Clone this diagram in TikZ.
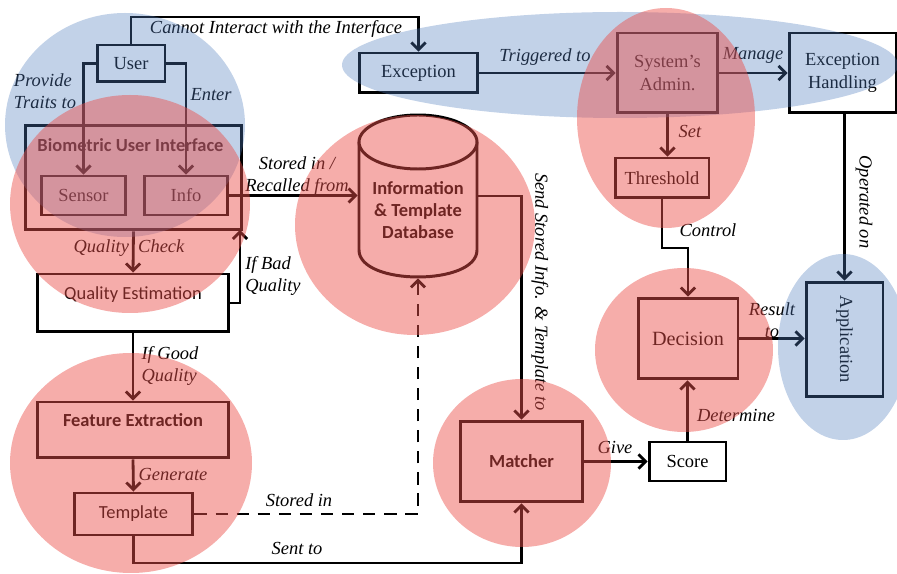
\documentclass[tikz,border=0pt]{standalone}
\usepackage{fontspec}
\setmainfont{Liberation Serif}
\newfontfamily\calibri{Carlito}
\usetikzlibrary{calc,arrows.meta}
\definecolor{blobred}{RGB}{235,80,75}
\definecolor{blobblue}{RGB}{80,125,190}

\begin{document}
\begin{tikzpicture}[x=0.02cm, y=-0.02cm, line width=1.6pt,
  boxsize/.style 2 args={minimum width=#1*0.2mm, minimum height=#2*0.2mm},
  box/.style={draw, line width=1.7pt, fill=white, align=center, inner sep=0pt,
    font=\fontsize{10.5}{13}\selectfont},
  cbox/.style={box, font=\calibri\fontsize{10.5}{13}\selectfont},
  bbox/.style={box, font=\calibri\bfseries\fontsize{10.5}{13}\selectfont},
  lbl/.style={font=\itshape\fontsize{10.5}{12.5}\selectfont, align=center, inner sep=0pt},
  arr/.style={-{Straight Barb[length=4pt,width=8pt]}},
  redblob/.style={fill=blobred, fill opacity=0.47},
  blueblob/.style={fill=blobblue, fill opacity=0.35}]
  \useasboundingbox (0,0) rectangle (897,574);
  \coordinate (ceil) at (0,17);
  \coordinate (floor) at (0,563);
  \coordinate (ctl) at (0,248);
  \coordinate (retry) at (240,230);

  % boxes
  \node[box, boxsize={68}{37}] (user) at (131,63.5) {User};
  \node[box, boxsize={217}{105}] (bui) at (133.5,177.5) {};
  \node[font=\calibri\bfseries\fontsize{10.5}{13}\selectfont] (buititle) at (130.5,145) {Biometric User Interface};
  \node[box, boxsize={85}{39}] (sensor) at (83.5,195.5) {Sensor};
  \node[box, boxsize={84}{39}] (info) at (186,195.5) {Info};
  \node[cbox, boxsize={192}{58}, text depth=11pt] (qe) at (133,303) {Quality Estimation};
  \node[bbox, boxsize={192}{56}, text depth=11pt] (fe) at (133,430) {Feature Extraction};
  \node[cbox, boxsize={119}{42}] (tmpl) at (133.5,514) {Template};
  \node[box, boxsize={119}{40}] (exc) at (418.5,73) {Exception};
  \node[box, boxsize={101}{80}] (admin) at (667.5,73) {System's\\Admin.};
  \node[box, boxsize={107}{80}] (exh) at (842.5,73) {Exception\\Handling};
  \node[box, boxsize={94}{40}] (thr) at (662,178) {Threshold};
  \node[box, boxsize={100}{81}, font=\fontsize{11.5}{14}\selectfont] (dec) at (688,338.5) {Decision};
  \node[box, boxsize={77}{115}] (app) at (844.5,339.5) {\rotatebox{-90}{Application}};
  \node[bbox, boxsize={123}{81}] (matcher) at (521.5,461.5) {Matcher};
  \node[box, boxsize={77}{39}] (score) at (687.5,461.5) {Score};

  % database cylinder
  \node[boxsize={118}{162}, inner sep=0pt] (db) at (418,196) {};
  \draw[line width=1.7pt, fill=white] (359,142) -- (359,250) .. controls (359,286) and (477,286) .. (477,250) -- (477,142);
  \draw[line width=1.7pt, fill=white] (418,142) ellipse [x radius=59, y radius=27];
  \node[font=\calibri\bfseries\fontsize{10.5}{12.5}\selectfont, align=center] (dbtext) at (418,210) {Information\\\& Template\\Database};

  % connectors
  \draw[arr] (user.north) -- (user.north |- ceil) -| (exc.north);
  \draw[arr] (user.west) -| (sensor.north);
  \draw[arr] (user.east) -| (info.north);
  \draw[arr] (info.east) -- (info.east -| db.west);
  \draw[arr] (bui.south) -- (qe.north);
  \draw[arr] (qe.east) -| (retry);
  \draw[arr] (qe.south) -- (fe.north);
  \draw[arr] (fe.south) -- (tmpl.north);
  \draw[arr, dashed, dash pattern=on 7pt off 5pt] (tmpl.east) -| (db.south);
  \draw[arr] (tmpl.south) |- (floor -| matcher.south) -- (matcher.south);
  \draw[arr] (db.east) -| (matcher.north);
  \draw[arr] (exc.east) -- (admin.west);
  \draw[arr] (admin.east) -- (exh.west);
  \draw[arr] (admin.south) -- (admin.south |- thr.north);
  \draw[arr] (thr.south) -- (thr.south |- ctl) -| (dec.north);
  \draw[arr] (exh.south -| app.north) -- (app.north);
  \draw[arr] (dec.east) -- (dec.east -| app.west);
  \draw[arr] (score.north) -- (score.north |- dec.south);
  \draw[arr] (matcher.east) -- (score.west);

  % labels
  \node[lbl] (lcannot) at (276,29) {Cannot Interact with the Interface};
  \node[lbl, align=left] (lprovide) at (45,91) {Provide\\Traits to};
  \node[lbl] (lenter) at (211,95) {Enter};
  \node[lbl] (lstored) at (297,176) {Stored in /\\Recalled from};
  \node[lbl] (lcheck) at (129,248) {Quality\ \ Check};
  \node[lbl, align=left] (lbad) at (273,276) {If Bad\\Quality};
  \node[lbl, align=left] (lgood) at (170,366) {If Good\\Quality};
  \node[lbl] (lgen) at (173,474) {Generate};
  \node[lbl] (lstoredin) at (299,500) {Stored in};
  \node[lbl] (lsent) at (297,548) {Sent to};
  \node[lbl, rotate=-90] (lsend) at (540,292) {Send Stored Info. \& Template to};
  \node[lbl] (ltrig) at (545,57) {Triggered to};
  \node[lbl] (lmanage) at (753,55) {Manage};
  \node[lbl] (lset) at (690,131) {Set};
  \node[lbl] (lcontrol) at (708,230) {Control};
  \node[lbl, rotate=-90] (loperated) at (864,202) {Operated on};
  \node[lbl] (lresult) at (772,320) {Result\\to};
  \node[lbl] (ldeterm) at (736,415) {Determine};
  \node[lbl] (lgive) at (615,447) {Give};

  % overlays
  \fill[blueblob] (125,125) ellipse [x radius=120, y radius=112];
  \fill[blueblob] (620,65) ellipse [x radius=278, y radius=53];
  \fill[blueblob] (843,347) ellipse [x radius=65, y radius=93];
  \fill[redblob] (130,204) ellipse [x radius=120, y radius=109];
  \fill[redblob] (415,225) ellipse [x radius=120, y radius=110];
  \fill[redblob] (666,118) ellipse [x radius=89, y radius=110];
  \fill[redblob] (684,350) ellipse [x radius=89, y radius=82];
  \fill[redblob] (131,463) ellipse [x radius=121, y radius=110];
  \fill[redblob] (522,463) ellipse [x radius=89, y radius=84];
\end{tikzpicture}
\end{document}
